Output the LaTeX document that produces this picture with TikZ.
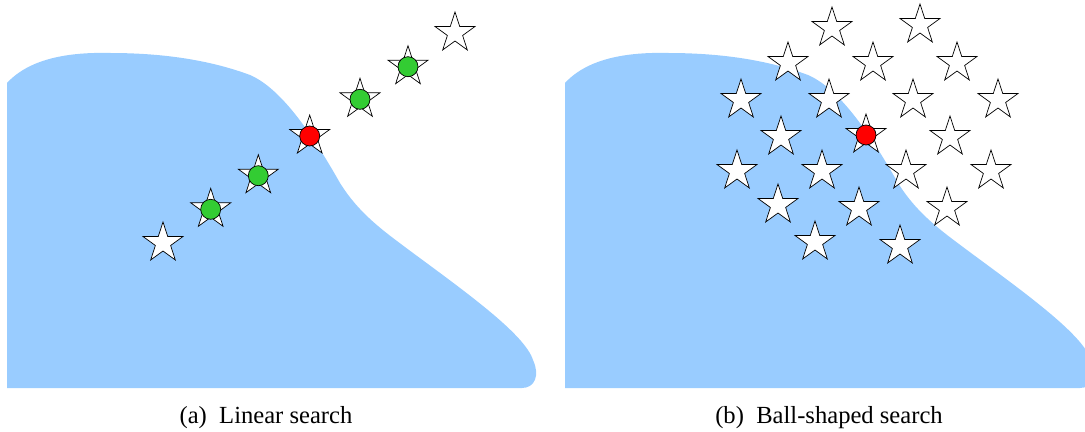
\documentclass[tikz,border=0pt]{standalone}
\usepackage{fontspec}
\setmainfont{Liberation Serif}
\usetikzlibrary{shapes.geometric}

\definecolor{skyblue}{RGB}{153,204,255}
\definecolor{okgreen}{RGB}{51,204,51}

\begin{document}
\begin{tikzpicture}[
  x=0.02cm, y=-0.02cm,
  region/.style={fill=skyblue, draw=none},
  cand/.style={star, star points=5, star point ratio=2.618, draw, thin,
    fill=white, minimum size=0.84cm, inner sep=0pt},
  hit/.style={circle, draw, thin, minimum size=0.4cm, inner sep=0pt},
  good/.style={hit, fill=okgreen},
  best/.style={hit, fill=red},
  caption/.style={font=\fontsize{14}{16}\selectfont},
]
  \clip (0,0) rectangle (1085,432);

  % Feasible region (same shape in both panels)
  \foreach \dx in {0, 558} {
    \fill[region, shift={(\dx,0)}] (7,388) -- (7,83)
      .. controls (30,58) and (70,52) .. (110,53)
      .. controls (170,53) and (215,62) .. (250,75)
      .. controls (280,88) and (310,130) .. (340,183)
      .. controls (360,215) and (385,232) .. (413,253)
      .. controls (470,295) and (525,335) .. (533,360)
      .. controls (540,375) and (535,388) .. (522,388) -- cycle;
  }

  % (a) Linear search
  \foreach \i/\px/\py in {1/163/243, 2/210.7/209.3, 3/258.3/175.7, 4/309.7/136,
      5/360/99.3, 6/408/66.7, 7/455/33}
    \node[cand] (a\i) at (\px,\py) {};
  \foreach \i in {2,3,5,6}
    \node[good] (ga\i) at (a\i) {};
  \node[best] (ra4) at (a4) {};

  % (b) Ball-shaped search
  \foreach \i/\px/\py in {1/832/28, 2/920/25, 3/788/63, 4/873/63, 5/957/63,
      6/741/100, 7/829/100, 8/913/100, 9/998/100, 10/781/137, 11/866/135,
      12/950/137, 13/737/171, 14/822/171, 15/906/171, 16/991/171,
      17/778/205, 18/859/208, 19/947/208, 20/815/242, 21/900/246}
    \node[cand] (b\i) at (\px,\py) {};
  \node[best] (rb11) at (b11) {};

  % Captions
  \node[caption] (capa) at (266,418) {(a)\ \ Linear search};
  \node[caption] (capb) at (829,418) {(b)\ \ Ball-shaped search};

\end{tikzpicture}
\end{document}
